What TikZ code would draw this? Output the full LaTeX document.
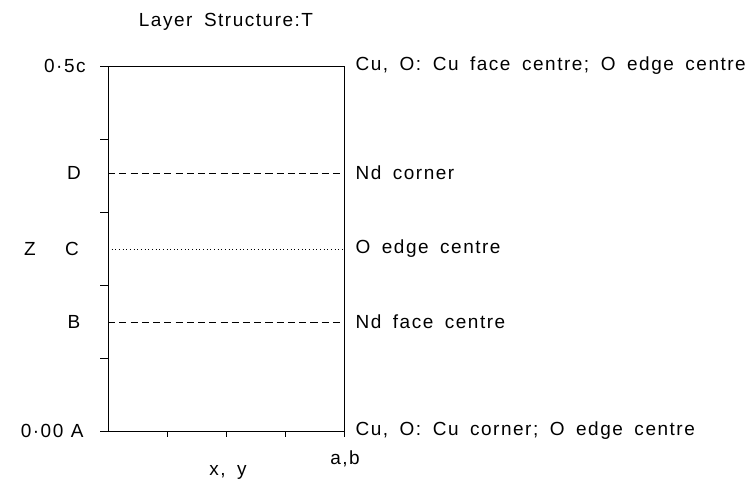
\documentclass[tikz,border=0pt]{standalone}
\usepackage{fontspec}
\setmainfont{Liberation Sans}[LetterSpace=8,WordSpace=1.7]
\usetikzlibrary{positioning}
\tikzset{lab/.style={font=\fontsize{13.5}{15}\selectfont, inner sep=0pt},
         layer/.style={line width=0.6pt}}

\begin{document}
\begin{tikzpicture}[x=0.025cm,y=-0.025cm,line width=0.5pt]
\useasboundingbox (0,0) rectangle (754,487);
\coordinate (tl) at (108,66);
\coordinate (tr) at (344,66);
\coordinate (bl) at (108,431);
\coordinate (br) at (344,431);
\coordinate (Dl) at (108,173);
\coordinate (Dr) at (344,173);
\coordinate (Cl) at (108,249);
\coordinate (Cr) at (344,249);
\coordinate (Bl) at (108,322);
\coordinate (Br) at (344,322);

\draw[layer] (tl) -- (tr) -- (br) -- (bl) -- cycle;
\foreach \y in {66,139,212,285,358,431}
	\draw (100,\y) -- (108,\y);
\foreach \x in {167,226,285,344}
	\draw (\x,431) -- (\x,437);
\draw[layer,dashed,dash pattern=on 5pt off 3pt] (Dl) -- (Dr);
\draw[layer,dotted] (Cl) -- (Cr);
\draw[layer,dashed,dash pattern=on 5pt off 3pt] (Bl) -- (Br);

\node[lab] (title) at (226,22) {Layer Structure:T};
\node[lab,anchor=east] (top) at (86,66) {0·5c};
\node[lab] (D) at (74,173) {D};
\node[lab] (C) at (72,249) {C};
\node[lab] (Z) at (30,249) {Z};
\node[lab] (B) at (74,322) {B};
\node[lab,anchor=east] (A) at (84,431) {0·00\hspace{0.4em}A};
\node[lab] (xy) at (228,472) {x, y};
\node[lab] (ab) at (345,459) {a,b};

\node[lab,anchor=west,right=0.28cm of tr] (ltop) {Cu, O: Cu face centre; O edge centre};
\node[lab,anchor=west,right=0.28cm of Dr] (lD) {Nd corner};
\node[lab,anchor=west,right=0.28cm of Cr] (lC) {O edge centre};
\node[lab,anchor=west,right=0.28cm of Br] (lB) {Nd face centre};
\node[lab,anchor=west,right=0.28cm of br] (lA) {Cu, O: Cu corner; O edge centre};
\end{tikzpicture}
\end{document}
